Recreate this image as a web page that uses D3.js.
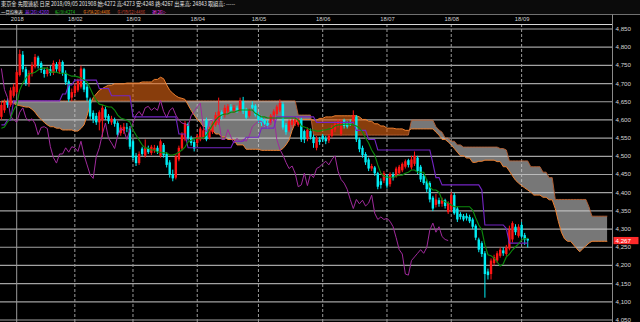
<!DOCTYPE html>
<html>
<head>
<meta charset="utf-8">
<script src="https://cdn.jsdelivr.net/npm/d3@7/dist/d3.min.js"></script>
<style>
  body { margin: 0; background: #000; }
  svg { display: block; font-family: "Liberation Sans", Arial, sans-serif; }
</style>
</head>
<body>
<div id="chart"></div>
<script>
// daily candles, Dec 2017 .. 2018/09/05
const opens = [
  4607,4625,4648,4640,4665,4675,4722,4778,4738,4700,
  4725,4745,4770,4755,4736,4725,4738,4728,4752,4732,
  4758,4728,4705,4660,4672,4680,4690,4738,4690,4655,
  4618,4610,4592,4598,4628,4610,4592,4600,4590,4562,
  4568,4578,4575,4540,4500,4480,4520,4500,4520,4508,
  4515,4522,4500,4530,4505,4482,4450,4440,4490,4520,
  4545,4588,4550,4538,4535,4545,4550,4598,4550,4565,
  4585,4590,4620,4612,4622,4635,4625,4632,4625,4650,
  4628,4610,4640,4638,4615,4605,4598,4590,4590,4600,
  4615,4625,4642,4585,4570,4585,4588,4585,4600,4568,
  4548,4568,4552,4522,4545,4555,4548,4542,4555,4572,
  4585,4560,4598,4590,4592,4595,4608,4545,4522,4505,
  4490,4465,4468,4452,4430,4432,4445,4422,4448,4445,
  4452,4460,4470,4488,4468,4478,4495,4470,4445,4430,
  4425,4385,4365,4378,4368,4378,4345,4352,4392,4355,
  4340,4335,4335,4332,4325,4308,4270,4260,4232,4182,
  4175,4205,4212,4225,4240,4230,4245,4270,4305,4280,
  4310,4282,4272];
const highs = [
  4650,4655,4658,4688,4698,4735,4792,4788,4745,4735,
  4758,4780,4775,4760,4742,4745,4748,4762,4758,4765,
  4762,4735,4710,4685,4700,4712,4748,4742,4700,4660,
  4625,4618,4625,4640,4635,4615,4610,4605,4595,4585,
  4590,4590,4582,4545,4508,4512,4525,4545,4528,4530,
  4530,4528,4545,4535,4510,4488,4462,4505,4528,4565,
  4596,4592,4555,4545,4560,4580,4578,4605,4580,4595,
  4620,4660,4625,4640,4642,4642,4640,4638,4660,4662,
  4632,4630,4650,4642,4620,4610,4602,4598,4615,4628,
  4640,4655,4648,4590,4600,4605,4608,4605,4605,4572,
  4578,4575,4558,4555,4552,4560,4555,4560,4585,4595,
  4600,4600,4602,4595,4600,4625,4612,4550,4528,4510,
  4495,4478,4472,4456,4438,4458,4450,4455,4455,4470,
  4475,4482,4490,4492,4500,4512,4500,4475,4450,4435,
  4430,4390,4395,4385,4385,4382,4375,4400,4398,4360,
  4345,4340,4342,4338,4330,4312,4275,4265,4238,4190,
  4218,4228,4238,4248,4248,4255,4308,4320,4312,4312,
  4318,4288,4273];
const lows = [
  4600,4618,4632,4635,4660,4670,4718,4730,4692,4690,
  4718,4740,4740,4728,4715,4718,4720,4722,4730,4725,
  4720,4695,4648,4650,4665,4675,4685,4675,4650,4600,
  4590,4585,4570,4552,4598,4588,4585,4580,4552,4555,
  4560,4565,4518,4488,4472,4475,4500,4495,4505,4502,
  4508,4505,4495,4495,4468,4440,4430,4435,4485,4515,
  4540,4542,4528,4512,4528,4540,4545,4540,4545,4560,
  4580,4585,4600,4605,4615,4620,4618,4618,4620,4615,
  4600,4605,4628,4608,4590,4582,4580,4575,4585,4595,
  4610,4620,4572,4558,4565,4578,4582,4580,4538,4535,
  4540,4545,4522,4515,4530,4538,4532,4535,4550,4565,
  4578,4555,4575,4575,4582,4590,4538,4510,4495,4475,
  4458,4458,4445,4408,4410,4425,4410,4415,4432,4440,
  4445,4455,4465,4468,4462,4472,4450,4428,4420,4400,
  4372,4348,4358,4360,4360,4355,4340,4345,4338,4318,
  4325,4320,4322,4315,4298,4268,4235,4222,4110,4160,
  4160,4198,4205,4220,4225,4225,4240,4262,4282,4275,
  4272,4255,4248];
const closes = [
  4640,4648,4640,4680,4690,4730,4780,4738,4700,4728,
  4750,4772,4748,4736,4725,4738,4728,4755,4738,4758,
  4728,4702,4655,4675,4692,4708,4740,4682,4660,4608,
  4600,4592,4620,4632,4605,4595,4602,4588,4558,4578,
  4580,4575,4525,4495,4480,4505,4505,4522,4510,4525,
  4522,4512,4540,4502,4475,4448,4438,4498,4522,4560,
  4590,4548,4535,4520,4555,4575,4570,4545,4572,4590,
  4612,4622,4610,4632,4636,4625,4632,4625,4652,4622,
  4605,4625,4632,4612,4598,4590,4588,4582,4610,4622,
  4635,4645,4578,4565,4595,4598,4600,4598,4545,4545,
  4572,4552,4535,4548,4538,4545,4540,4555,4580,4588,
  4595,4595,4582,4580,4588,4612,4545,4518,4502,4482,
  4465,4472,4452,4415,4420,4452,4418,4450,4440,4465,
  4470,4478,4485,4475,4490,4500,4458,4435,4425,4408,
  4380,4355,4380,4368,4378,4362,4370,4392,4342,4325,
  4332,4325,4328,4320,4305,4275,4242,4230,4175,4172,
  4212,4222,4232,4242,4232,4248,4296,4315,4290,4305,
  4278,4270,4267];

// ichimoku lines
const tenkan = [
  4576,4579,4593,4604,4626,4640,4681,4700,4714,4725,
  4727,4730,4736,4741,4741,4741,4730,4730,4730,4727,
  4727,4727,4722,4719,4719,4717,4714,4708,4703,4686,
  4667,4653,4642,4640,4637,4634,4634,4626,4612,4604,
  4601,4598,4593,4571,4557,4543,4530,4521,4521,4516,
  4516,4510,4510,4508,4508,4502,4502,4505,4510,4516,
  4524,4538,4543,4546,4549,4549,4549,4557,4571,4585,
  4598,4607,4612,4615,4615,4620,4620,4623,4626,4626,
  4626,4626,4626,4617,4612,4607,4607,4604,4604,4604,
  4604,4604,4604,4604,4604,4604,4604,4598,4582,4579,
  4576,4571,4571,4568,4568,4571,4571,4574,4576,4582,
  4585,4585,4587,4587,4587,4585,4582,4576,4565,4549,
  4535,4516,4502,4475,4452,4444,4441,4441,4441,4444,
  4447,4447,4452,4455,4461,4461,4455,4455,4455,4433,
  4414,4406,4406,4400,4379,4373,4371,4365,4360,4360,
  4360,4360,4360,4360,4351,4329,4310,4296,4255,4228,
  4225,4219,4208,4197,4203,4222,4230,4241,4250,4258,
  4269,4272,4274];
const kijun = [
  4585,4585,4598,4598,4651,4651,4651,4651,4651,4651,
  4651,4651,4651,4651,4651,4651,4651,4651,4651,4651,
  4670,4670,4695,4695,4708,4708,4708,4708,4708,4708,
  4708,4708,4685,4685,4685,4685,4665,4665,4665,4665,
  4665,4665,4665,4607,4607,4607,4607,4607,4607,4607,
  4607,4607,4607,4607,4607,4607,4607,4607,4560,4560,
  4560,4522,4522,4522,4522,4522,4522,4522,4522,4522,
  4522,4522,4522,4522,4522,4522,4540,4540,4540,4540,
  4551,4551,4551,4551,4551,4576,4576,4576,4576,4576,
  4607,4607,4607,4607,4607,4607,4607,4607,4607,4607,
  4607,4607,4607,4592,4592,4592,4592,4592,4592,4592,
  4592,4592,4592,4592,4592,4592,4570,4570,4570,4570,
  4545,4545,4545,4516,4516,4516,4516,4516,4516,4516,
  4516,4516,4516,4516,4516,4516,4516,4516,4516,4516,
  4516,4480,4440,4440,4420,4420,4420,4420,4420,4420,
  4420,4420,4420,4420,4420,4420,4420,4406,4310,4310,
  4310,4310,4310,4310,4310,4300,4260,4260,4260,4260,
  4260,4260,4260];
// leading spans, already placed 26 days ahead (199 slots)
const spanA = [
  4648,4648,4648,4648,4644,4640,4638,4636,4634,4634,
  4628,4620,4608,4600,4592,4585,4580,4580,4576,4576,
  4571,4571,4571,4571,4568,4568,4575,4585,4610,4640,
  4660,4670,4680,4685,4690,4694,4694,4698,4698,4698,
  4698,4700,4700,4700,4700,4700,4703,4703,4703,4703,
  4710,4710,4716,4712,4695,4680,4672,4665,4660,4658,
  4655,4640,4625,4612,4600,4592,4580,4580,4571,4571,
  4560,4560,4552,4552,4545,4545,4545,4530,4530,4530,
  4518,4518,4518,4518,4518,4515,4515,4515,4515,4515,
  4515,4515,4520,4530,4543,4570,4590,4600,4600,4600,
  4600,4600,4598,4598,4603,4603,4607,4607,4607,4610,
  4610,4610,4610,4610,4610,4610,4610,4607,4600,4600,
  4595,4595,4588,4588,4582,4582,4576,4576,4576,4574,
  4574,4574,4570,4570,4574,4574,4574,4574,4574,4574,
  4574,4574,4565,4557,4545,4545,4538,4530,4520,4510,
  4500,4500,4494,4494,4482,4482,4485,4485,4488,4488,
  4488,4488,4484,4484,4470,4470,4458,4445,4433,4425,
  4418,4412,4406,4400,4392,4392,4392,4386,4386,4379,
  4379,4355,4320,4290,4272,4265,4265,4255,4245,4236,
  4245,4252,4260,4265,4265,4265,4265,4265,4265];
const spanB = [
  4651,4651,4651,4651,4651,4651,4651,4651,4651,4651,
  4651,4651,4651,4651,4651,4651,4651,4651,4651,4651,
  4651,4651,4651,4651,4651,4651,4651,4651,4651,4651,
  4651,4651,4651,4651,4651,4651,4651,4651,4651,4651,
  4651,4651,4651,4651,4651,4651,4651,4651,4651,4651,
  4651,4651,4651,4651,4651,4651,4651,4651,4651,4651,
  4651,4651,4651,4651,4651,4651,4651,4651,4651,4651,
  4651,4651,4651,4651,4651,4651,4651,4651,4651,4651,
  4651,4651,4651,4651,4651,4651,4651,4651,4651,4651,
  4651,4651,4651,4651,4651,4651,4651,4612,4612,4612,
  4612,4612,4557,4557,4557,4557,4557,4557,4557,4557,
  4557,4557,4557,4557,4557,4557,4557,4557,4557,4557,
  4557,4557,4557,4557,4557,4557,4557,4557,4557,4557,
  4557,4557,4557,4557,4598,4598,4598,4598,4598,4598,
  4598,4598,4580,4571,4565,4549,4549,4540,4540,4530,
  4530,4524,4524,4524,4524,4524,4524,4524,4524,4524,
  4524,4524,4524,4520,4520,4516,4486,4486,4486,4486,
  4486,4486,4486,4470,4470,4470,4470,4455,4455,4440,
  4440,4380,4380,4380,4380,4380,4380,4380,4380,4380,
  4380,4380,4360,4334,4334,4334,4334,4334,4334];

const monthIdx = [5, 24, 43, 64, 84, 105, 126, 147, 170];
const monthLabels = ["2018", "18/02", "18/03", "18/04", "18/05", "18/06", "18/07", "18/08", "18/09"];
const priceTicks = [4050,4100,4150,4200,4250,4300,4350,4400,4450,4500,4550,4600,4650,4700,4750,4800,4850];
const lastPrice = 4267;

const W = 640, H = 322;
const plotRight = 612, plotTop = 24;

const x = d3.scaleLinear().domain([0, 198]).range([1.4, 607.3]);
const y = d3.scaleLinear().domain([4050, 4850]).range([319.5, 28.5]);

const svg = d3.select("#chart").append("svg").attr("width", W).attr("height", H);
svg.append("rect").attr("width", W).attr("height", H).attr("fill", "#000");

// header
svg.append("rect").attr("width", W).attr("height", 14).attr("fill", "#0b0b0b");
svg.append("text").attr("x", 1).attr("y", 6.0)
  .attr("font-family", "'Noto Sans CJK JP', sans-serif").attr("font-size", 5.6)
  .attr("fill", "#e6e6e6")
  .attr("textLength", 234).attr("lengthAdjust", "spacingAndGlyphs")
  .text("東京金 先限連続 日足 2018/09/05 201908 始:4272 高:4273 安:4248 終:4267 出来高: 24843 取組高: -----");

const legend = [
  { t: "一目均衡表", x: 1, w: 22, c: "#e6e6e6" },
  { t: "基(26):4260", x: 25, w: 24, c: "#9933ff" },
  { t: "転(9):4274", x: 55, w: 20, c: "#1fc41f" },
  { t: "先行A(26):4406", x: 83, w: 27, c: "#ff8a1c" },
  { t: "先行B(52):4486", x: 117, w: 28, c: "#c8402c" },
  { t: "遅(26):-", x: 152, w: 14, c: "#ff3cff" }
];
svg.append("g").selectAll("text").data(legend).join("text")
  .attr("x", d => d.x).attr("y", 13.6)
  .attr("font-family", "'Noto Sans CJK JP', sans-serif").attr("font-size", 5.0)
  .attr("fill", d => d.c)
  .attr("textLength", d => d.w).attr("lengthAdjust", "spacingAndGlyphs")
  .text(d => d.t);

// frame lines
svg.append("line").attr("x1", 0).attr("x2", W).attr("y1", 14.5).attr("y2", 14.5)
  .attr("stroke", "#707070").attr("stroke-width", 1);
svg.append("line").attr("x1", 0).attr("x2", plotRight).attr("y1", 24.5).attr("y2", 24.5)
  .attr("stroke", "#d8d8d8").attr("stroke-width", 1);
svg.append("line").attr("x1", plotRight + 0.5).attr("x2", plotRight + 0.5).attr("y1", 14.5).attr("y2", H)
  .attr("stroke", "#8a8a8a").attr("stroke-width", 1);

// date labels
const xAxis = svg.append("g")
  .attr("transform", "translate(0,15.5)")
  .call(d3.axisBottom(x).tickValues(monthIdx).tickSize(0).tickPadding(1.5)
    .tickFormat((d, i) => monthLabels[i]));
xAxis.select(".domain").remove();
xAxis.selectAll("text").attr("fill", "#d0d0d0").attr("font-size", 5.8);

// clip
svg.append("clipPath").attr("id", "plot")
  .append("rect").attr("x", 0).attr("y", plotTop + 1).attr("width", plotRight).attr("height", H - plotTop);
const g = svg.append("g").attr("clip-path", "url(#plot)");

// horizontal grid
const grid = g.append("g")
  .attr("transform", `translate(${plotRight},0)`)
  .call(d3.axisLeft(y).tickValues(priceTicks).tickSize(plotRight).tickFormat(""));
grid.select(".domain").remove();
grid.selectAll("line").attr("stroke", "#a2a2a2").attr("stroke-width", 1.2);

// month lines
g.append("g").selectAll("line").data(monthIdx).join("line")
  .attr("x1", d => x(d)).attr("x2", d => x(d))
  .attr("y1", plotTop).attr("y2", H)
  .attr("stroke", "#9a9a9a").attr("stroke-width", 1)
  .attr("stroke-dasharray", (d, i) => i === 0 ? null : "3,2");

// cloud
const slots = d3.range(spanA.length);
const band = d3.area().x(i => x(i)).y0(i => y(spanA[i])).y1(i => y(spanB[i]));
svg.append("clipPath").attr("id", "aboveB")
  .append("path").attr("d", d3.area().x(i => x(i)).y0(0).y1(i => y(spanB[i]))(slots));
svg.append("clipPath").attr("id", "belowB")
  .append("path").attr("d", d3.area().x(i => x(i)).y0(i => y(spanB[i])).y1(H)(slots));

g.append("path").attr("d", band(slots)).attr("fill", "rgba(235,105,20,0.58)")
  .attr("clip-path", "url(#aboveB)");
g.append("path").attr("d", band(slots)).attr("fill", "rgba(205,205,205,0.58)")
  .attr("clip-path", "url(#belowB)");

const lineOf = arr => d3.line().x((d, i) => x(i)).y(d => y(d))(arr);
g.append("path").attr("d", lineOf(spanB)).attr("fill", "none")
  .attr("stroke", "#b8643a").attr("stroke-width", 0.9);
g.append("path").attr("d", lineOf(spanA)).attr("fill", "none")
  .attr("stroke", "#ee8030").attr("stroke-width", 1);

// candles
const candles = closes.map((c, i) => ({ i, o: opens[i], h: highs[i], l: lows[i], c }));
const upCol = "#ff1414", dnCol = "#00eef5";
const cg = g.append("g");
cg.selectAll("line").data(candles).join("line")
  .attr("x1", d => x(d.i)).attr("x2", d => x(d.i))
  .attr("y1", d => y(d.h)).attr("y2", d => y(d.l))
  .attr("stroke", d => d.c >= d.o ? upCol : dnCol).attr("stroke-width", 1);
cg.selectAll("rect").data(candles).join("rect")
  .attr("x", d => x(d.i) - 1.2).attr("width", 2.4)
  .attr("y", d => y(Math.max(d.o, d.c)))
  .attr("height", d => Math.max(0.9, Math.abs(y(d.o) - y(d.c))))
  .attr("fill", d => d.c >= d.o ? upCol : dnCol);

// chikou, tenkan, kijun
g.append("path").attr("d", lineOf(closes.slice(26))).attr("fill", "none")
  .attr("stroke", "#a02a9c").attr("stroke-width", 1);
g.append("path").attr("d", lineOf(kijun)).attr("fill", "none")
  .attr("stroke", "#7424c4").attr("stroke-width", 1.1);
g.append("path").attr("d", lineOf(tenkan)).attr("fill", "none")
  .attr("stroke", "#0c8a0c").attr("stroke-width", 1.1);

// price axis
const yAxis = svg.append("g")
  .attr("transform", `translate(${plotRight + 1},0)`)
  .call(d3.axisRight(y).tickValues(priceTicks).tickSize(0).tickPadding(2.5)
    .tickFormat(d3.format(",")));
yAxis.select(".domain").remove();
yAxis.selectAll("text").attr("fill", "#d4d4d4").attr("font-size", 6.2);

// last price tag
svg.append("rect").attr("x", plotRight + 1.5).attr("y", y(lastPrice) - 3.6)
  .attr("width", 25).attr("height", 7.2).attr("fill", "#ff2a2a");
svg.append("text").attr("x", plotRight + 3.5).attr("y", y(lastPrice) + 2.2)
  .attr("fill", "#fff").attr("font-size", 6.2).text(d3.format(",")(lastPrice));
</script>
</body>
</html>
